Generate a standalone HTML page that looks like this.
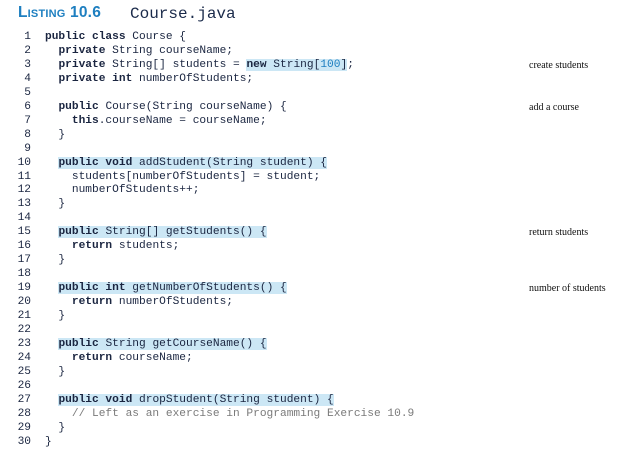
<!DOCTYPE html>
<html><head><style>
body{margin:0;width:622px;height:449px;background:#fff;position:relative;overflow:hidden}
.h{position:absolute;left:18px;top:4px;font:bold 15.5px "Liberation Sans",sans-serif;color:#1e7fc0;font-variant:small-caps;letter-spacing:0.2px}
.h2{position:absolute;left:130px;top:5px;font:16px "Liberation Mono",monospace;color:#1a2a4a}
.code{position:absolute;left:0;top:31px;font:11.2px/13.96px "Liberation Mono",monospace;color:#1a2540;white-space:pre}
.ln{display:inline-block;width:31px;text-align:right;margin-right:14px}
b{font-weight:bold}
.hl{background:#cce7f5}
.c{color:#7a7a7a}
.n{color:#1e7fc0}
.a{position:absolute;left:529px;font:10px "Liberation Serif",serif;color:#111}
</style></head><body>
<div class="h">Listing 10.6</div>
<div class="h2">Course.java</div>
<div class="code"><span class="ln">1</span><b>public class</b> Course {
<span class="ln">2</span>  <b>private</b> String courseName;
<span class="ln">3</span>  <b>private</b> String[] students = <span class="hl"><b>new</b> String[<span class="n">100</span>]</span>;
<span class="ln">4</span>  <b>private int</b> numberOfStudents;
<span class="ln">5</span>
<span class="ln">6</span>  <b>public</b> Course(String courseName) {
<span class="ln">7</span>    <b>this</b>.courseName = courseName;
<span class="ln">8</span>  }
<span class="ln">9</span>
<span class="ln">10</span>  <span class="hl"><b>public void</b> addStudent(String student) {</span>
<span class="ln">11</span>    students[numberOfStudents] = student;
<span class="ln">12</span>    numberOfStudents++;
<span class="ln">13</span>  }
<span class="ln">14</span>
<span class="ln">15</span>  <span class="hl"><b>public</b> String[] getStudents() {</span>
<span class="ln">16</span>    <b>return</b> students;
<span class="ln">17</span>  }
<span class="ln">18</span>
<span class="ln">19</span>  <span class="hl"><b>public int</b> getNumberOfStudents() {</span>
<span class="ln">20</span>    <b>return</b> numberOfStudents;
<span class="ln">21</span>  }
<span class="ln">22</span>
<span class="ln">23</span>  <span class="hl"><b>public</b> String getCourseName() {</span>
<span class="ln">24</span>    <b>return</b> courseName;
<span class="ln">25</span>  }
<span class="ln">26</span>
<span class="ln">27</span>  <span class="hl"><b>public void</b> dropStudent(String student) {</span>
<span class="ln">28</span>    <span class="c">// Left as an exercise in Programming Exercise 10.9</span>
<span class="ln">29</span>  }
<span class="ln">30</span>}</div>
<div class="a" style="top:60px">create students</div>
<div class="a" style="top:102px">add a course</div>
<div class="a" style="top:227px">return students</div>
<div class="a" style="top:283px">number of students</div>
</body></html>
